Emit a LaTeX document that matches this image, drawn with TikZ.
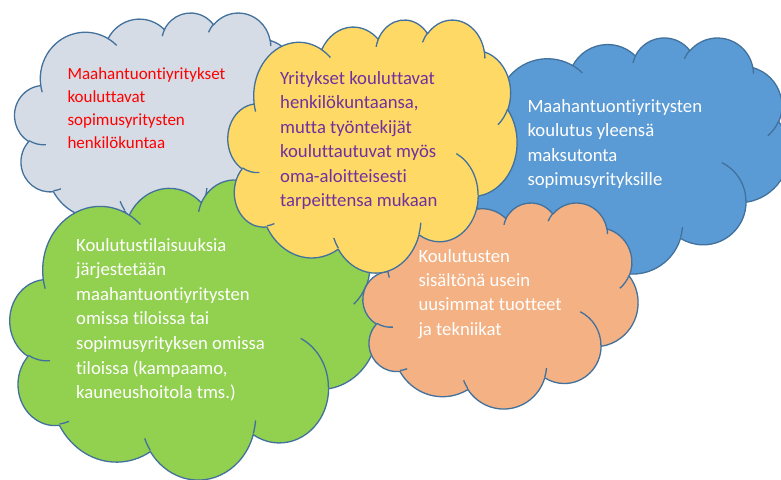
\documentclass[tikz,border=0pt]{standalone}
\usepackage{fontspec}
\setmainfont{Carlito}[Ligatures={NoCommon,NoRare,NoDiscretionary}]
\definecolor{cgray}{HTML}{D6DCE5}
\definecolor{cyellow}{HTML}{FFD966}
\definecolor{cblue}{HTML}{5B9BD5}
\definecolor{cgreen}{HTML}{92D050}
\definecolor{corange}{HTML}{F4B183}
\definecolor{cline}{HTML}{41719C}
\definecolor{cpurple}{HTML}{7030A0}
\newcommand\cldcalc[5]{%
  \pgfmathsetmacro\cldtmpA{atan2((#2)*sin(#4),(#3)*cos(#4))}%
  \pgfmathsetmacro\cldtmpB{atan2((#2)*sin(#4+#5),(#3)*cos(#4+#5))}%
  \pgfmathsetmacro\cldtmpD{mod(\cldtmpB-\cldtmpA+720,360)}%
  \expandafter\xdef\csname cldT#1\endcsname{\cldtmpA}%
  \expandafter\xdef\csname cldD#1\endcsname{\cldtmpD}%
}
\newcommand\cldarc[3]{arc[start angle=\csname cldT#1\endcsname, delta angle=\csname cldD#1\endcsname, x radius=#2pt, y radius=#3pt]}
\newcommand\cloudmain{(39.00pt,143.70pt)
  \cldarc{a}{67.53}{91.90} \cldarc{b}{53.33}{72.67} \cldarc{c}{43.65}{59.45}
  \cldarc{d}{48.57}{65.95} \cldarc{e}{53.33}{72.73} \cldarc{f}{67.75}{92.20}
  \cldarc{g}{57.85}{78.67} \cldarc{h}{67.52}{92.15} \cldarc{i}{77.20}{105.43}
  \cldarc{j}{43.60}{59.18} \cldarc{k}{43.45}{59.45} -- cycle}
\newcommand\cloudhooks{%
  (46.93pt,261.77pt) \cldarc{A}{43.45}{59.45}
  (69.28pt,348.99pt) \cldarc{B}{43.60}{59.18}
  (164.78pt,390.90pt) \cldarc{C}{67.52}{92.15}
  (288.27pt,347.51pt) \cldarc{D}{67.52}{92.15}
  (341.29pt,229.54pt) \cldarc{E}{57.85}{78.67}
  (417.98pt,153.54pt) \cldarc{F}{53.33}{72.73}
  (383.24pt,54.26pt) \cldarc{G}{48.57}{65.95}
  (290.78pt,39.52pt) \cldarc{H}{48.57}{65.95}
  (221.41pt,47.20pt) \cldarc{I}{43.65}{59.45}
  (140.00pt,51.92pt) \cldarc{J}{67.53}{91.90}
  (41.27pt,157.89pt) \cldarc{K}{67.53}{91.90}}
\newcommand\drawcloud[5]{%
  \begin{scope}[shift={(#1pt,-#2pt)}, xscale=#3/432, yscale=-#4/432]
    \filldraw[cloudline, fill=#5] \cloudmain;
    \draw[cloudline] \cloudhooks;
  \end{scope}}
\tikzset{
  cloudline/.style={draw=cline, line width=1.3pt, line join=round},
  txt/.style={anchor=base west, inner sep=0pt},
}
\begin{document}
\begin{tikzpicture}
\cldcalc{a}{67.53}{91.90}{-190.4875}{123.7805}
\cldcalc{b}{53.33}{72.67}{-144.1024}{89.9452}
\cldcalc{c}{43.65}{59.45}{-145.8079}{99.7230}
\cldcalc{d}{48.57}{65.95}{-130.9861}{117.2417}
\cldcalc{e}{53.33}{72.73}{-78.7089}{109.0269}
\cldcalc{f}{67.75}{92.20}{-46.2673}{130.2690}
\cldcalc{g}{57.85}{78.67}{0.6250}{114.0333}
\cldcalc{h}{67.52}{92.15}{22.4516}{115.1726}
\cldcalc{i}{77.20}{105.43}{66.2426}{75.7110}
\cldcalc{j}{43.60}{59.18}{-274.9421}{146.7356}
\cldcalc{k}{43.45}{59.45}{-246.8285}{152.5189}
\cldcalc{A}{43.45}{59.45}{86.7420}{26.4295}
\cldcalc{B}{43.60}{59.18}{73.6105}{11.4475}
\cldcalc{C}{67.52}{92.15}{137.6242}{14.0811}
\cldcalc{D}{67.52}{92.15}{6.4533}{15.9984}
\cldcalc{E}{57.85}{78.67}{-70.2924}{70.9174}
\cldcalc{F}{53.33}{72.73}{30.3180}{27.7515}
\cldcalc{G}{48.57}{65.95}{-13.7443}{14.8589}
\cldcalc{H}{48.57}{65.95}{-149.1815}{18.1954}
\cldcalc{I}{43.65}{59.45}{-163.4943}{17.6864}
\cldcalc{J}{67.53}{91.90}{-66.7070}{12.3194}
\cldcalc{K}{67.53}{91.90}{157.6544}{11.8582}
\useasboundingbox (0pt,0pt) rectangle (781pt,-479pt);
\fill[white] (0pt,0pt) rectangle (781pt,-479pt);
\drawcloud{14.7}{12.3}{288}{218.5}{cgray}
\drawcloud{469}{37.2}{320}{236}{cblue}
\drawcloud{10}{179}{368}{300}{cgreen}
\drawcloud{363}{202.3}{275}{206}{corange}
\drawcloud{228}{19.2}{289}{253}{cyellow}
\node[txt, text=red, font=\fontsize{17pt}{23pt}\selectfont] (tgray) at (67.3pt,-79.5pt)
  {\vtop{\baselineskip=23pt \hbox{Maahantuontiyritykset}\hbox{kouluttavat}\hbox{sopimusyritysten}\hbox{henkilökuntaa}}};
\node[txt, text=cpurple, font=\fontsize{18.7pt}{24.5pt}\selectfont] (tyellow) at (280pt,-84.3pt)
  {\vtop{\baselineskip=24.5pt \hbox{Yritykset kouluttavat}\hbox{henkilökuntaansa,}\hbox{mutta työntekijät}\hbox{kouluttautuvat myös}\hbox{oma-aloitteisesti}\hbox{tarpeittensa mukaan}}};
\node[txt, text=white, font=\fontsize{18.7pt}{24.5pt}\selectfont] (tblue) at (527.3pt,-112.3pt)
  {\vtop{\baselineskip=24.5pt \hbox{Maahantuontiyritysten}\hbox{koulutus yleensä}\hbox{maksutonta}\hbox{sopimusyrityksille}}};
\node[txt, text=white, font=\fontsize{18.7pt}{24.6pt}\selectfont] (tgreen) at (76pt,-251pt)
  {\vtop{\baselineskip=24.6pt \hbox{Koulutustilaisuuksia}\hbox{järjestetään}\hbox{maahantuontiyritysten}\hbox{omissa tiloissa tai}\hbox{sopimusyrityksen omissa}\hbox{tiloissa (kampaamo,}\hbox{kauneushoitola tms.)}}};
\node[txt, text=white, font=\fontsize{18.7pt}{24.4pt}\selectfont] (torange) at (418.3pt,-262pt)
  {\vtop{\baselineskip=24.4pt \hbox{Koulutusten}\hbox{sisältönä usein}\hbox{uusimmat tuotteet}\hbox{ja tekniikat}}};
\end{tikzpicture}
\end{document}
